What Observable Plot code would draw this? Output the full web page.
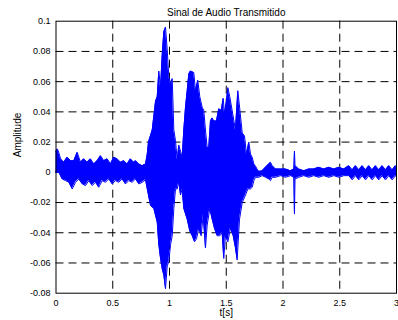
<!DOCTYPE html>
<html><head><meta charset="utf-8">
<script src="https://cdn.jsdelivr.net/npm/d3@7"></script>
<script src="https://cdn.jsdelivr.net/npm/@observablehq/plot@0.6"></script>
<style>body{margin:0;background:#fff;} svg{overflow:visible;display:block}</style>
</head><body><div id="chart"></div>
<script>
const title = "Sinal de Audio Transmitido";
const xLabel = "t[s]";
const yLabel = "Amplitude";
const xTicks = [0, 0.5, 1, 1.5, 2, 2.5, 3];
const xTickLabels = ["0", "0.5", "1", "1.5", "2", "2.5", "3"];
const yTicks = [-0.08, -0.06, -0.04, -0.02, 0, 0.02, 0.04, 0.06, 0.08, 0.1];
const yTickLabels = ["-0.08", "-0.06", "-0.04", "-0.02", "0", "0.02", "0.04", "0.06", "0.08", "0.1"];

// upper envelope of the waveform [t (s), amplitude]
const upper = [
[0,0.014],[0.012,0.0155],[0.025,0.013],[0.040,0.009],[0.069,0.0066],[0.098,0.0099],[0.113,0.0089],[0.128,0.0077],[0.157,0.0077],[0.187,0.0132],[0.216,0.0066],[0.245,0.0089],[0.275,0.0066],[0.304,0.0089],[0.333,0.0055],[0.363,0.0077],[0.392,0.011],[0.421,0.0077],[0.451,0.0089],[0.480,0.0055],[0.509,0.0099],[0.539,0.0089],[0.568,0.0066],[0.597,0.0077],[0.627,0.0055],[0.656,0.0089],[0.685,0.0066],[0.700,0.0077],[0.730,0.0055],[0.759,0.0044],[0.789,0.0055],
[0.804,0.012],[0.815,0.020],[0.848,0.028],[0.877,0.047],[0.892,0.050],[0.906,0.067],[0.921,0.056],[0.936,0.078],[0.950,0.093],[0.965,0.096],[0.980,0.081],[0.994,0.063],[1.009,0.059],[1.024,0.062],[1.038,0.028],[1.053,0.021],[1.068,0.008],[1.082,0.018],[1.097,0.014],[1.112,0.010],[1.126,0.028],[1.141,0.043],[1.156,0.054],[1.170,0.065],[1.185,0.067],[1.214,0.066],[1.229,0.054],[1.249,0.061],[1.267,0.050],[1.288,0.043],[1.302,0.041],[1.317,0.028],[1.332,0.0165],[1.346,0.0165],[1.361,0.034],[1.376,0.036],[1.390,0.034],[1.414,0.034],[1.434,0.042],[1.456,0.041],[1.473,0.049],[1.485,0.039],[1.502,0.047],[1.514,0.056],[1.531,0.050],[1.552,0.041],[1.581,0.028],[1.602,0.054],[1.619,0.042],[1.641,0.026],[1.661,0.024],[1.678,0.012],[1.699,0.020],[1.714,0.012],[1.729,0.0099],[1.743,0.0055],[1.758,0.004],
[1.787,0.000],[1.817,0.001],[1.846,0.0033],[1.875,0.0055],[1.890,0.0066],[1.905,0.0044],[1.934,0.0022],[1.978,0.0022],[2.022,0.0022],[2.066,0.001],[2.096,0.0022],[2.101,0.014],[2.106,0.0044],[2.139,0.0022],[2.183,0.001],[2.227,0.0022],[2.271,0.0022],[2.315,0.0033],[2.359,0.0022],[2.404,0.0033],[2.448,0.0022],[2.492,0.0033],[2.536,0.0022],
[2.580,0.0044],[2.610,0.0016],[2.639,0.0044],[2.668,0.0016],[2.698,0.0044],[2.727,0.0016],[2.756,0.0044],[2.786,0.0016],[2.815,0.0044],[2.844,0.0016],[2.874,0.0044],[2.903,0.0016],[2.932,0.0044],[2.962,0.0016],[2.991,0.0044],[3.0,0.0030]
];

// lower envelope of the waveform [t (s), amplitude]
const lower = [
[0,0.000],[0.025,0.000],[0.054,-0.0044],[0.084,-0.0055],[0.113,-0.0066],[0.143,-0.011],[0.172,-0.0066],[0.201,-0.0044],[0.231,-0.0077],[0.260,-0.0088],[0.289,-0.0055],[0.319,-0.0088],[0.348,-0.0066],[0.377,-0.0099],[0.407,-0.0055],[0.436,-0.0066],[0.465,-0.0044],[0.495,-0.0077],[0.524,-0.0055],[0.553,-0.0066],[0.583,-0.0044],[0.612,-0.0077],[0.641,-0.0055],[0.671,-0.0066],[0.700,-0.0044],[0.730,-0.0077],[0.759,-0.0066],[0.789,-0.005],
[0.804,-0.011],[0.833,-0.022],[0.862,-0.024],[0.892,-0.033],[0.906,-0.048],[0.921,-0.057],[0.936,-0.064],[0.950,-0.068],[0.965,-0.077],[0.980,-0.062],[0.994,-0.059],[1.009,-0.048],[1.024,-0.042],[1.038,-0.024],[1.053,-0.011],[1.068,-0.011],[1.082,-0.0064],[1.097,-0.015],[1.112,-0.011],[1.126,-0.024],[1.156,-0.031],[1.179,-0.039],[1.200,-0.042],[1.220,-0.046],[1.238,-0.044],[1.258,-0.037],[1.279,-0.042],[1.297,-0.028],[1.317,-0.050],[1.332,-0.035],[1.355,-0.024],[1.376,-0.031],[1.396,-0.037],[1.420,-0.042],[1.443,-0.042],[1.464,-0.040],[1.478,-0.057],[1.493,-0.042],[1.514,-0.046],[1.537,-0.037],[1.561,-0.042],[1.581,-0.050],[1.596,-0.058],[1.617,-0.031],[1.641,-0.020],[1.670,-0.015],[1.690,-0.011],[1.714,-0.011],[1.729,-0.0099],[1.743,-0.0055],[1.758,-0.0033],
[1.787,-0.0033],[1.817,-0.0022],[1.846,-0.0033],[1.875,-0.0044],[1.890,-0.0055],[1.905,-0.0033],[1.934,-0.0033],[1.978,-0.0022],[2.022,-0.0033],[2.066,-0.0022],[2.096,-0.0033],[2.101,-0.0275],[2.106,-0.0044],[2.139,-0.0033],[2.183,-0.0022],[2.227,-0.0033],[2.271,-0.0022],[2.315,-0.0033],[2.359,-0.0022],[2.404,-0.0033],[2.448,-0.0022],[2.492,-0.0033],[2.536,-0.0022],
[2.580,-0.0022],[2.610,-0.005],[2.639,-0.0022],[2.668,-0.005],[2.698,-0.0022],[2.727,-0.005],[2.756,-0.0022],[2.786,-0.005],[2.815,-0.0022],[2.844,-0.005],[2.874,-0.0022],[2.903,-0.005],[2.932,-0.0022],[2.962,-0.005],[2.991,-0.0022],[3.0,-0.003]
];

const font = "'Liberation Sans', Arial, Helvetica, sans-serif";
const blue = "#0000ff";
const dash = "8,5";
const overlap = 0.0008; // areas overlap slightly across zero to avoid an anti-aliasing seam

const chart = Plot.plot({
  width: 398, height: 320,
  marginLeft: 55.5, marginRight: 2, marginTop: 20.7, marginBottom: 27.3,
  style: {fontFamily: font, fontSize: "9px", background: "white", color: "black", overflow: "visible"},
  x: {domain: [0, 3]},
  y: {domain: [-0.08, 0.1]},
  marks: [
    Plot.gridX(xTicks.slice(1, -1), {stroke: "black", strokeOpacity: 1, strokeWidth: 1, strokeDasharray: dash}),
    Plot.gridY(yTicks.slice(1, -1), {stroke: "black", strokeOpacity: 1, strokeWidth: 1, strokeDasharray: dash}),
    Plot.areaY(upper, {x: d => d[0], y1: -overlap, y2: d => d[1], fill: blue}),
    Plot.areaY(lower, {x: d => d[0], y1: overlap, y2: d => d[1], fill: blue}),
    Plot.line(upper, {x: d => d[0], y: d => d[1], stroke: blue, strokeWidth: 1}),
    Plot.line(lower, {x: d => d[0], y: d => d[1], stroke: blue, strokeWidth: 1}),
    Plot.frame({stroke: "black", strokeWidth: 1}),
    Plot.axisX(xTicks, {tickSize: 0, tickPadding: 6, tickFormat: d => xTickLabels[xTicks.indexOf(d)], label: null, fontSize: 9}),
    Plot.axisY(yTicks, {tickSize: 0, tickPadding: 5.5, tickFormat: d => yTickLabels[yTicks.indexOf(d)], label: null, fontSize: 9}),
    Plot.text([title], {frameAnchor: "top", dy: -12.4, fontSize: 10}),
    Plot.text([xLabel], {frameAnchor: "bottom", dy: 23, fontSize: 10}),
    Plot.text([yLabel], {frameAnchor: "left", dx: -38, rotate: -90, fontSize: 10})
  ]
});
document.getElementById("chart").appendChild(chart);
</script>
</body></html>
